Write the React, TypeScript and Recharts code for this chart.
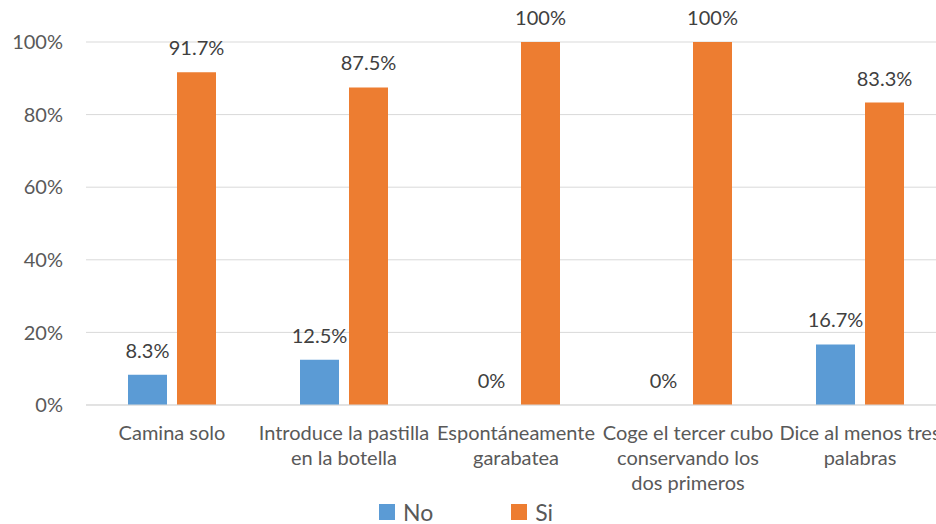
import React from 'react';
import { BarChart, Bar, XAxis, YAxis, CartesianGrid, Legend, LabelList } from 'recharts';

const categories = [
  'Camina solo',
  'Introduce la pastilla\nen la botella',
  'Espontáneamente\ngarabatea',
  'Coge el tercer cubo\nconservando los\ndos primeros',
  'Dice al menos tres\npalabras',
];
const noValues = [8.3, 12.5, 0, 0, 16.7];
const siValues = [91.7, 87.5, 100, 100, 83.3];
const yTicks = [0, 20, 40, 60, 80, 100];
const seriesNames = ['No', 'Si'];
const seriesColors = ['#5B9BD5', '#ED7D31'];

const data = categories.map((c, i) => ({ name: c, No: noValues[i], Si: siValues[i] }));

const FONT = 'Lato, "Liberation Sans", sans-serif';

const CategoryTick = (props: any) => {
  const { x, y, payload } = props;
  const lines = String(payload.value).split('\n');
  return (
    <text x={x} y={y} textAnchor="middle" fill="#595959" fontSize={20} fontFamily={FONT}>
      {lines.map((l, i) => (
        <tspan key={i} x={x} dy={i === 0 ? 35 : 25}>
          {l}
        </tspan>
      ))}
    </text>
  );
};

const ValueLabel = (props: any) => {
  const { x, y, width, value } = props;
  if (value === undefined || value === null) return null;
  return (
    <text
      x={Number(x) + Number(width) / 2}
      y={Number(y) - 17}
      textAnchor="middle"
      fill="#404040"
      fontSize={20}
      fontFamily={FONT}
    >
      {`${value}%`}
    </text>
  );
};

const LegendContent = () => (
  <div
    style={{
      display: 'flex',
      justifyContent: 'center',
      alignItems: 'center',
      height: 22,
      paddingRight: 14,
      fontFamily: FONT,
      fontSize: 23,
      color: '#595959',
    }}
  >
    {seriesNames.map((n, i) => (
      <div key={n} style={{ display: 'flex', alignItems: 'center', marginLeft: i === 0 ? 0 : 78 }}>
        <div style={{ width: 16, height: 16, background: seriesColors[i], marginRight: 8 }} />
        <span style={{ lineHeight: '22px' }}>{n}</span>
      </div>
    ))}
  </div>
);

export default function App() {
  return (
    <div
      style={{
        position: 'fixed',
        left: 0,
        top: 0,
        width: 936,
        height: 524,
        overflow: 'hidden',
        background: '#fff',
        fontFamily: FONT,
      }}
    >
      <BarChart
        width={950}
        height={524}
        data={data}
        margin={{ top: 42, right: 4, bottom: 1, left: 0 }}
        barSize={39}
        barGap={10}
      >
        <CartesianGrid vertical={false} stroke="#D9D9D9" strokeWidth={1} />
        <XAxis
          dataKey="name"
          height={96}
          interval={0}
          axisLine={{ stroke: '#D9D9D9', strokeWidth: 1 }}
          tickLine={false}
          tickSize={0}
          tickMargin={0}
          tick={<CategoryTick />}
        />
        <YAxis
          width={86}
          domain={[0, 100]}
          ticks={yTicks}
          tickFormatter={(v: number) => `${v}%`}
          axisLine={false}
          tickLine={false}
          tickSize={0}
          tickMargin={23}
          tick={{ fill: '#595959', fontSize: 20, fontFamily: FONT }}
        />
        <Legend verticalAlign="bottom" height={22} content={<LegendContent />} />
        <Bar dataKey="No" fill={seriesColors[0]} isAnimationActive={false} minPointSize={0.01}>
          <LabelList dataKey="No" content={<ValueLabel />} />
        </Bar>
        <Bar dataKey="Si" fill={seriesColors[1]} isAnimationActive={false}>
          <LabelList dataKey="Si" content={<ValueLabel />} />
        </Bar>
      </BarChart>
    </div>
  );
}
